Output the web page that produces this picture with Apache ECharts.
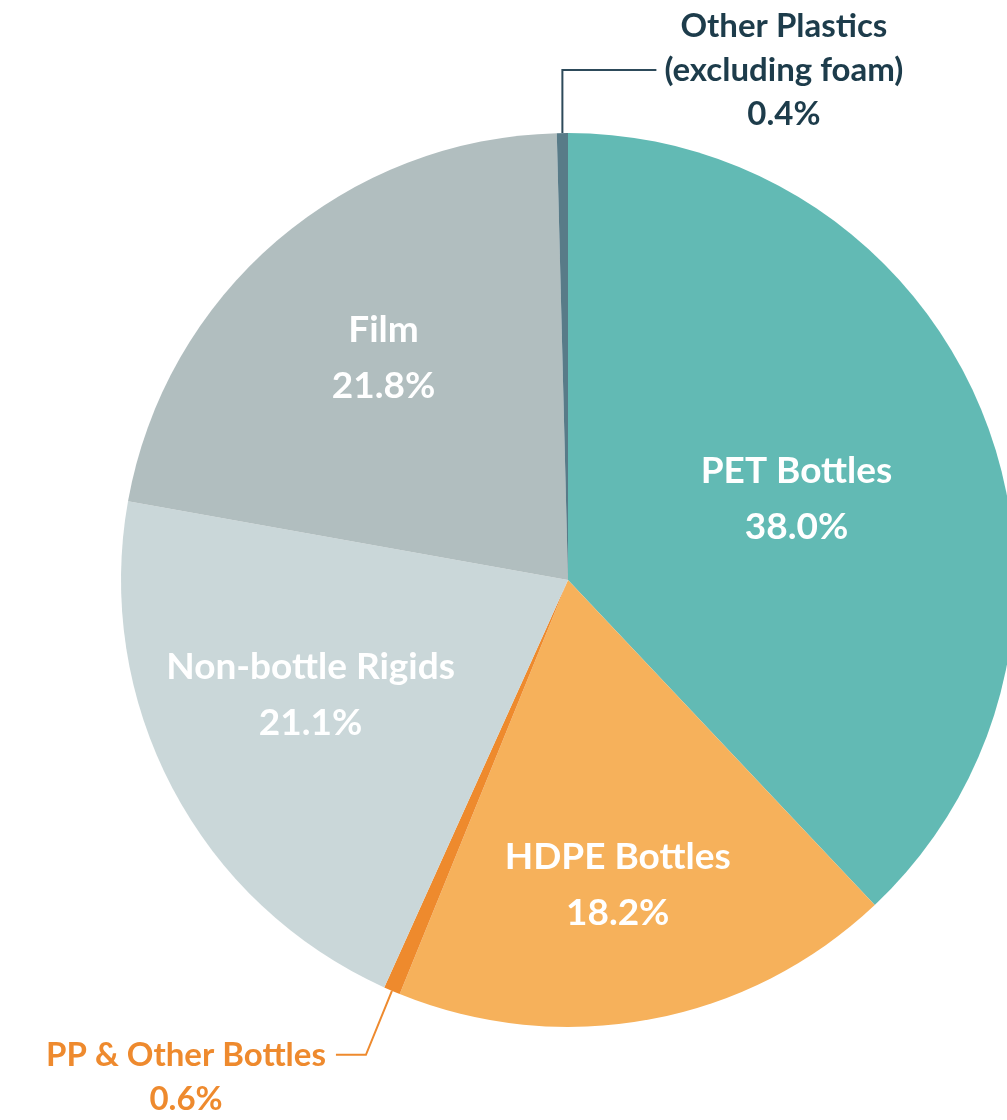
<!DOCTYPE html>
<html>
<head>
<meta charset="utf-8">
<script src="https://cdn.jsdelivr.net/npm/echarts@6/dist/echarts.min.js"></script>
<style>
  html, body { margin: 0; padding: 0; background: #ffffff; }
  #view { width: 1007px; height: 1120px; }
</style>
</head>
<body>
<div id="view"></div>
<script>
// slices, clockwise from 12 o'clock
const names = ["PET Bottles", "HDPE Bottles", "PP & Other Bottles", "Non-bottle Rigids", "Film", "Other Plastics\n(excluding foam)"];
const values = [38.0, 18.2, 0.6, 21.1, 21.8, 0.4];
const colors = ["#62bab4", "#f6b15b", "#ee8a2d", "#cad7d9", "#b1bebf", "#587b88"];
const outside = [false, false, true, false, false, true];

// nudges for inside labels (layout only)
const shiftX = [18, 8, 0, -57, -37, 0];
const shiftY = [3, 82, 0, 9, -50, 0];

const fontFamily = "Lato, 'Open Sans', sans-serif";

let myChart = echarts.init(document.getElementById("view"), null, { renderer: "canvas" });

let seriesData = names.map((name, i) => {
  let item = {
    name: name,
    value: values[i],
    itemStyle: { color: colors[i] },
  };
  if (outside[i]) {
    let textColor = i === 2 ? "#ee8a2e" : "#1d3c4b";
    item.label = {
      position: "outside",
      color: textColor,
      fontSize: 33,
      lineHeight: 44,
      fontWeight: "bold",
    };
    item.labelLine = {
      show: true,
      lineStyle: { color: i === 2 ? "#ee8a2e" : "#2d4a5a", width: 2 },
    };
  } else {
    item.labelLine = { show: false };
  }
  return item;
});

let option = {
  backgroundColor: "#ffffff",
  animation: false,
  series: [
    {
      type: "pie",
      center: [568, 580],
      radius: 447,
      startAngle: 90,
      clockwise: true,
      avoidLabelOverlap: false,
      itemStyle: { borderWidth: 0 },
      label: {
        show: true,
        position: "inside",
        color: "#ffffff",
        fontFamily: fontFamily,
        fontSize: 37,
        fontWeight: "bold",
        lineHeight: 56,
        align: "center",
        formatter: (p) => p.name + "\n" + p.value.toFixed(1) + "%",
      },
      labelLine: { show: false },
      labelLayout: function (params) {
        let i = params.dataIndex;
        if (!outside[i]) {
          return { dx: shiftX[i], dy: shiftY[i] };
        }
        let pts = params.labelLinePoints;
        if (!pts) return {};
        let p0 = pts[0];
        let w = params.labelRect.width;
        if (i === 5) {
          // straight up, then right
          let p1 = [p0[0], p0[1] - 63];
          let p2 = [p1[0] + 94, p1[1]];
          return {
            x: p2[0] + 8 + w / 2,
            y: p2[1],
            align: "center",
            verticalAlign: "middle",
            labelLinePoints: [p0, p1, p2],
          };
        }
        // PP: slant down-left, then left
        let p1 = [p0[0] - 26, p0[1] + 64];
        let p2 = [p1[0] - 30, p1[1]];
        return {
          x: p2[0] - 10 - w / 2,
          y: p2[1] - 22,
          align: "center",
          verticalAlign: "top",
          labelLinePoints: [p0, p1, p2],
        };
      },
      data: seriesData,
    },
  ],
};

myChart.setOption(option);
</script>
</body>
</html>
